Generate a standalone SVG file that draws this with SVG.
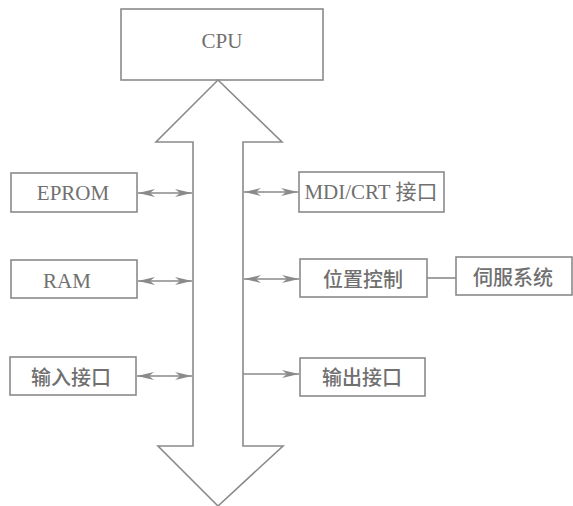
<svg xmlns="http://www.w3.org/2000/svg" width="573" height="506" viewBox="0 0 573 506">
<defs>
<style>
.box{fill:#fff;stroke:#8a8a8a;stroke-width:1.6}
.ln{fill:none;stroke:#8a8a8a;stroke-width:1.6}
.t{font-family:"Liberation Serif","Noto Sans CJK SC",serif;font-size:21px;fill:#707070;text-anchor:middle;dominant-baseline:central}
.c{font-family:"Noto Sans CJK SC",sans-serif;font-size:20px;font-weight:500;fill:#707070;text-anchor:middle;dominant-baseline:central}
</style>
<marker id="ah" markerWidth="18" markerHeight="10" refX="17" refY="5" orient="auto-start-reverse" markerUnits="userSpaceOnUse">
<path d="M0,1 L17,5 L0,9 L5,5 Z" fill="#8a8a8a"/>
</marker>
</defs>
<rect width="573" height="506" fill="#fff"/>
<g id="cpu"><rect class="box" x="121" y="9" width="202" height="71"/><text class="t" x="222" y="41">CPU</text></g>
<g id="bus"><path class="ln" d="M218,80 L282,142 L243,142 L243,446 L283,446 L218,506 L158,446 L193,446 L193,142 L156,142 Z"/></g>
<g id="eprom"><rect class="box" x="11" y="173" width="126" height="39"/><text class="t" x="73" y="193">EPROM</text></g>
<g id="ram"><rect class="box" x="11" y="260" width="126" height="38"/><text class="t" x="67" y="281">RAM</text></g>
<g id="input"><rect class="box" x="10" y="357" width="126" height="38"/><text class="c" x="71" y="376">输入接口</text></g>
<g id="mdi"><rect class="box" x="299" y="172" width="145" height="40"/><text class="t" x="371" y="192">MDI/CRT 接口</text></g>
<g id="pos"><rect class="box" x="300" y="259" width="127" height="38"/><text class="c" x="363" y="278">位置控制</text></g>
<g id="servo"><rect class="box" x="456" y="257" width="116" height="38"/><text class="c" x="513" y="276">伺服系统</text></g>
<g id="output"><rect class="box" x="300" y="358" width="125" height="38"/><text class="c" x="362" y="376">输出接口</text></g>
<g id="connectors">
<line class="ln" x1="138" y1="193" x2="192" y2="193" marker-start="url(#ah)" marker-end="url(#ah)"/>
<line class="ln" x1="138" y1="281" x2="192" y2="281" marker-start="url(#ah)" marker-end="url(#ah)"/>
<line class="ln" x1="137" y1="376" x2="192" y2="376" marker-start="url(#ah)" marker-end="url(#ah)"/>
<line class="ln" x1="244" y1="192" x2="298" y2="192" marker-start="url(#ah)" marker-end="url(#ah)"/>
<line class="ln" x1="244" y1="279" x2="299" y2="279" marker-start="url(#ah)" marker-end="url(#ah)"/>
<line class="ln" x1="243" y1="374" x2="299" y2="374" marker-end="url(#ah)"/>
<line class="ln" x1="427" y1="278" x2="456" y2="278"/>
</g>
</svg>
